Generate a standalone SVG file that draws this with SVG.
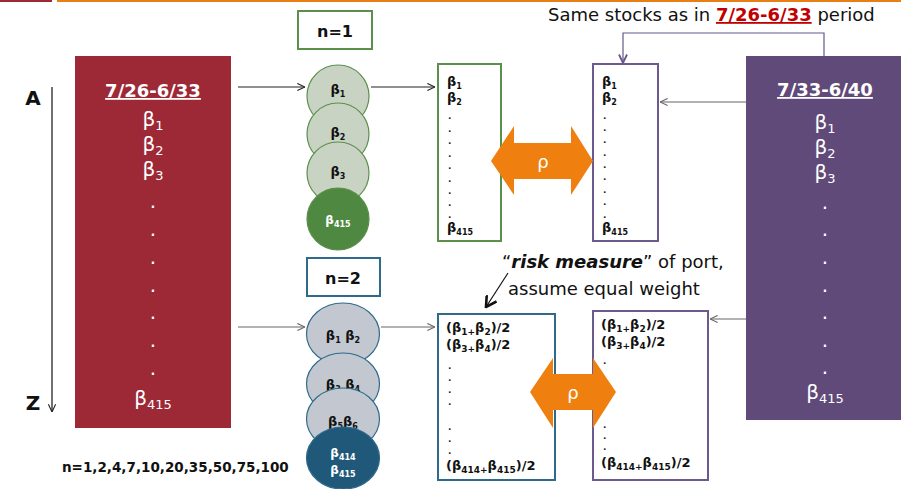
<svg xmlns="http://www.w3.org/2000/svg" width="901" height="489" viewBox="0 0 901 489">
<defs>
<style>
text{font-family:"DejaVu Sans","Liberation Sans",Arial,sans-serif}
.big{fill:#fff;font-size:20px;text-anchor:middle}
.ttl{fill:#fff;font-size:18px;font-weight:bold;text-anchor:middle;text-decoration:underline}
.sm{font-size:13px;font-weight:bold;fill:#111}
.dot{font-size:9px;font-weight:bold;fill:#222}
.cl{font-size:13px;font-weight:bold;fill:#111;text-anchor:middle}
.cw{font-size:12px;font-weight:bold;fill:#fff;text-anchor:middle}
.cap{font-size:18px;fill:#111}
.conn{fill:none;stroke-width:1.2}
</style>
<marker id="ah" viewBox="0 0 10 10" refX="9.5" refY="5" markerWidth="9" markerHeight="9" markerUnits="userSpaceOnUse" orient="auto">
<path d="M1,1 L9.5,5 L1,9" fill="none" stroke="#222" stroke-width="1.2"/>
</marker>
<marker id="ahg" viewBox="0 0 10 10" refX="9.5" refY="5" markerWidth="9" markerHeight="9" markerUnits="userSpaceOnUse" orient="auto">
<path d="M1,1 L9.5,5 L1,9" fill="none" stroke="#666" stroke-width="1.2"/>
</marker>
<marker id="ahp" viewBox="0 0 10 10" refX="9.5" refY="5" markerWidth="10" markerHeight="10" markerUnits="userSpaceOnUse" orient="auto">
<path d="M1,1 L9.5,5 L1,9" fill="none" stroke="#65578a" stroke-width="1.8"/>
</marker>
<marker id="ahb" viewBox="0 0 10 10" refX="9" refY="5" markerWidth="13" markerHeight="13" markerUnits="userSpaceOnUse" orient="auto">
<path d="M1,0.5 L9,5 L1,9.5" fill="none" stroke="#111" stroke-width="2"/>
</marker>
</defs>

<rect x="0" y="0" width="52" height="2" fill="#9d2937"/>
<rect x="57" y="0" width="844" height="2" fill="#e87e14"/>

<g id="connectors">
<line class="conn" x1="52" y1="87" x2="52" y2="412" stroke="#111" stroke-width="1.5" marker-end="url(#ah)"/>
<line class="conn" x1="238" y1="87" x2="305" y2="87" stroke="#222" marker-end="url(#ah)"/>
<line class="conn" x1="238" y1="327" x2="305" y2="327" stroke="#666" marker-end="url(#ahg)"/>
<line class="conn" x1="371" y1="87" x2="435" y2="87" stroke="#222" marker-end="url(#ah)"/>
<line class="conn" x1="381" y1="327" x2="435" y2="327" stroke="#666" marker-end="url(#ahg)"/>
<line class="conn" x1="746" y1="102" x2="660" y2="102" stroke="#666" marker-end="url(#ahg)"/>
<line class="conn" x1="746" y1="319" x2="710" y2="319" stroke="#666" marker-end="url(#ahg)"/>
<path class="conn" d="M824,56 V33 H623 V63" stroke="#65578a" stroke-width="2" marker-end="url(#ahp)"/>
<line class="conn" x1="508" y1="273" x2="486" y2="307" stroke="#111" stroke-width="2" marker-end="url(#ahb)"/>
</g>

<g id="axis-labels">
<text x="33" y="105" font-size="20" font-weight="bold" fill="#111" text-anchor="middle">A</text>
<text x="33" y="410" font-size="20" font-weight="bold" fill="#111" text-anchor="middle">Z</text>
</g>

<g id="period1">
<rect x="75" y="56" width="156" height="372" fill="#9d2937"/>
<text class="ttl" x="153" y="97">7/26-6/33</text>
<text class="big" x="153" y="126">β<tspan font-size="13" dy="4">1</tspan></text>
<text class="big" x="153" y="151">β<tspan font-size="13" dy="4">2</tspan></text>
<text class="big" x="153" y="176">β<tspan font-size="13" dy="4">3</tspan></text>
<text class="big"><tspan x="153" y="208">.</tspan><tspan x="153" y="236">.</tspan><tspan x="153" y="264">.</tspan><tspan x="153" y="292">.</tspan><tspan x="153" y="319">.</tspan><tspan x="153" y="347">.</tspan><tspan x="153" y="375">.</tspan></text>
<text class="big" x="153" y="405">β<tspan font-size="13" dy="4">415</tspan></text>
</g>

<g id="period2">
<rect x="746" y="56" width="155" height="364" fill="#5f4a7a"/>
<text class="ttl" x="825" y="96">7/33-6/40</text>
<text class="big" x="825" y="129">β<tspan font-size="13" dy="4">1</tspan></text>
<text class="big" x="825" y="154">β<tspan font-size="13" dy="4">2</tspan></text>
<text class="big" x="825" y="179">β<tspan font-size="13" dy="4">3</tspan></text>
<text class="big"><tspan x="825" y="209">.</tspan><tspan x="825" y="236">.</tspan><tspan x="825" y="264">.</tspan><tspan x="825" y="292">.</tspan><tspan x="825" y="319">.</tspan><tspan x="825" y="347">.</tspan><tspan x="825" y="374">.</tspan></text>
<text class="big" x="825" y="399">β<tspan font-size="13" dy="4">415</tspan></text>
</g>

<g id="note-same-stocks">
<text class="cap" x="548" y="21">Same stocks as in <tspan font-weight="bold" fill="#c00000" text-decoration="underline">7/26-6/33</tspan> period</text>
</g>

<g id="label-n1">
<rect x="298" y="11" width="74" height="38" fill="#fff" stroke="#5b8f4c" stroke-width="2"/>
<text x="335" y="37" font-size="16" font-weight="bold" fill="#111" text-anchor="middle">n=1</text>
</g>

<g id="stack-n1">
<ellipse cx="338" cy="96" rx="31" ry="31" fill="#c9d3c4" stroke="#5b8f4c" stroke-width="1.2"/>
<text class="cl" x="338" y="94">β<tspan font-size="8" dy="3">1</tspan></text>
<ellipse cx="338" cy="134" rx="31" ry="31" fill="#c9d3c4" stroke="#5b8f4c" stroke-width="1.2"/>
<text class="cl" x="338" y="137">β<tspan font-size="8" dy="3">2</tspan></text>
<ellipse cx="338" cy="173" rx="31" ry="31" fill="#c9d3c4" stroke="#5b8f4c" stroke-width="1.2"/>
<text class="cl" x="338" y="176">β<tspan font-size="8" dy="3">3</tspan></text>
<ellipse cx="338" cy="219" rx="31" ry="31" fill="#4f8840" stroke="#5b8f4c" stroke-width="1.2"/>
<text class="cw" x="338" y="224">β<tspan font-size="8" dy="3">415</tspan></text>
</g>

<g id="label-n2">
<rect x="307" y="258" width="73" height="38" fill="#fff" stroke="#2f6a8a" stroke-width="2"/>
<text x="343" y="284" font-size="16" font-weight="bold" fill="#111" text-anchor="middle">n=2</text>
</g>

<g id="stack-n2">
<ellipse cx="343" cy="334" rx="36.5" ry="31" fill="#c2c7d0" stroke="#2f6a8a" stroke-width="1.2"/>
<text class="cl" x="343" y="340">β<tspan font-size="8" dy="3">1</tspan><tspan dy="-3"> β</tspan><tspan font-size="8" dy="3">2</tspan></text>
<ellipse cx="343" cy="384" rx="36.5" ry="31" fill="#c2c7d0" stroke="#2f6a8a" stroke-width="1.2"/>
<text class="cl" x="343" y="389">β<tspan font-size="8" dy="3">3</tspan><tspan dy="-3"> β</tspan><tspan font-size="8" dy="3">4</tspan></text>
<ellipse cx="343" cy="419" rx="36.5" ry="31" fill="#c2c7d0" stroke="#2f6a8a" stroke-width="1.2"/>
<text class="cl" x="343" y="426">β<tspan font-size="8" dy="3">5</tspan><tspan dy="-3">β</tspan><tspan font-size="8" dy="3">6</tspan></text>
<ellipse cx="343" cy="458" rx="36.5" ry="31" fill="#1f5878" stroke="#2f6a8a" stroke-width="1.2"/>
<text class="cw" x="343" y="457">β<tspan font-size="8" dy="3">414</tspan></text>
<text class="cw" x="343" y="474">β<tspan font-size="8" dy="3">415</tspan></text>
</g>

<g id="betas-p1-n1">
<rect x="438" y="64" width="63" height="177" fill="#fff" stroke="#5b8f4c" stroke-width="2"/>
<text class="sm" x="447" y="86">β<tspan font-size="8" dy="3">1</tspan></text>
<text class="sm" x="447" y="102">β<tspan font-size="8" dy="3">2</tspan></text>
<text class="dot"><tspan x="448" y="119">.</tspan><tspan x="448" y="132">.</tspan><tspan x="448" y="144">.</tspan><tspan x="448" y="157">.</tspan><tspan x="448" y="169">.</tspan><tspan x="448" y="182">.</tspan><tspan x="448" y="194">.</tspan><tspan x="448" y="206">.</tspan><tspan x="448" y="218">.</tspan></text>
<text class="sm" x="447" y="232">β<tspan font-size="8" dy="3">415</tspan></text>
</g>

<g id="betas-p2-n1">
<rect x="593" y="64" width="65" height="177" fill="#fff" stroke="#6c5a8e" stroke-width="2"/>
<text class="sm" x="602" y="86">β<tspan font-size="8" dy="3">1</tspan></text>
<text class="sm" x="602" y="102">β<tspan font-size="8" dy="3">2</tspan></text>
<text class="dot"><tspan x="603" y="119">.</tspan><tspan x="603" y="131">.</tspan><tspan x="603" y="143">.</tspan><tspan x="603" y="156">.</tspan><tspan x="603" y="168">.</tspan><tspan x="603" y="180">.</tspan><tspan x="603" y="193">.</tspan><tspan x="603" y="205">.</tspan><tspan x="603" y="218">.</tspan></text>
<text class="sm" x="602" y="232">β<tspan font-size="8" dy="3">415</tspan></text>
</g>

<g id="rho-n1">
<polygon points="491,161 514,126 514,143 571,143 571,126 593,161 571,195 571,179 514,179 514,195" fill="#ef8010"/>
<text x="543" y="168" font-size="18" fill="#fff" text-anchor="middle">ρ</text>
</g>

<g id="note-risk">
<text class="cap" x="502" y="268">“<tspan font-weight="bold" font-style="italic">risk measure</tspan>” of port,</text>
<text class="cap" x="508" y="295">assume equal weight</text>
</g>

<g id="ports-p1-n2">
<rect x="438" y="314" width="117" height="166" fill="#fff" stroke="#2f6a8a" stroke-width="2"/>
<text class="sm" x="446" y="332">(β<tspan font-size="9" dy="3">1+</tspan><tspan dy="-3">β</tspan><tspan font-size="9" dy="3">2</tspan><tspan dy="-3">)/2</tspan></text>
<text class="sm" x="446" y="349">(β<tspan font-size="9" dy="3">3+</tspan><tspan dy="-3">β</tspan><tspan font-size="9" dy="3">4</tspan><tspan dy="-3">)/2</tspan></text>
<text class="dot"><tspan x="448" y="369">.</tspan><tspan x="448" y="381">.</tspan><tspan x="448" y="393">.</tspan><tspan x="448" y="405">.</tspan><tspan x="448" y="430">.</tspan><tspan x="448" y="442">.</tspan><tspan x="448" y="454">.</tspan></text>
<text class="sm" x="446" y="470">(β<tspan font-size="9" dy="3">414+</tspan><tspan dy="-3">β</tspan><tspan font-size="9" dy="3">415</tspan><tspan dy="-3">)/2</tspan></text>
</g>

<g id="ports-p2-n2">
<rect x="593" y="311" width="115" height="169" fill="#fff" stroke="#6c5a8e" stroke-width="2"/>
<text class="sm" x="601" y="329">(β<tspan font-size="9" dy="3">1+</tspan><tspan dy="-3">β</tspan><tspan font-size="9" dy="3">2</tspan><tspan dy="-3">)/2</tspan></text>
<text class="sm" x="601" y="346">(β<tspan font-size="9" dy="3">3+</tspan><tspan dy="-3">β</tspan><tspan font-size="9" dy="3">4</tspan><tspan dy="-3">)/2</tspan></text>
<text class="dot"><tspan x="603" y="364">.</tspan><tspan x="603" y="428">.</tspan><tspan x="603" y="439">.</tspan><tspan x="603" y="450">.</tspan></text>
<text class="sm" x="601" y="467">(β<tspan font-size="9" dy="3">414+</tspan><tspan dy="-3">β</tspan><tspan font-size="9" dy="3">415</tspan><tspan dy="-3">)/2</tspan></text>
</g>

<g id="rho-n2">
<polygon points="530,392 553,358 553,374 593,374 593,358 616,392 593,428 593,410 553,410 553,428" fill="#ef8010"/>
<text x="573" y="399" font-size="18" fill="#fff" text-anchor="middle">ρ</text>
</g>

<g id="note-n-values">
<text x="62" y="472" font-size="13.5" font-weight="bold" fill="#111">n=1,2,4,7,10,20,35,50,75,100</text>
</g>
</svg>
